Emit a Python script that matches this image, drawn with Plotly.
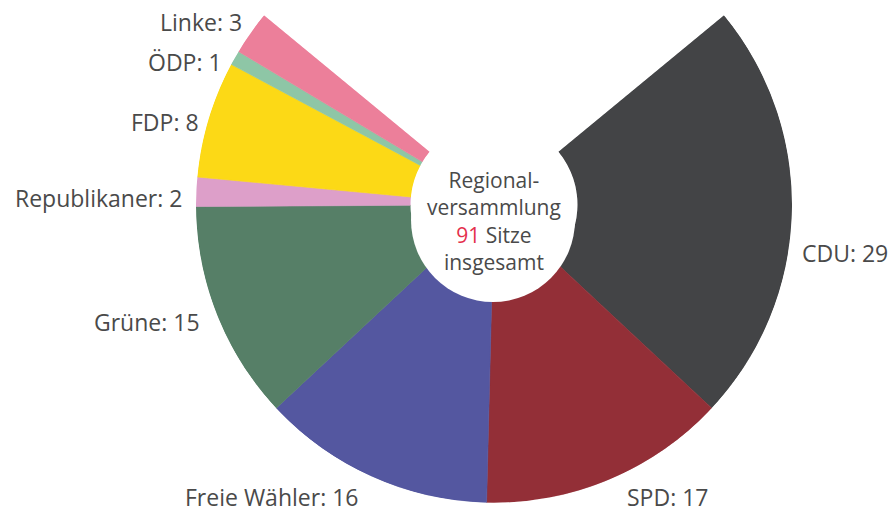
import plotly.graph_objects as go

parties = ["CDU", "SPD", "Freie Wähler", "Grüne", "Republikaner", "FDP", "ÖDP", "Linke"]
seats = [29, 17, 16, 15, 2, 8, 1, 3]
colors = ["#434446", "#932f37", "#5457a0", "#567f67", "#dd9fc9", "#fcd916", "#8ec6a6", "#ec7f9a"]
center_lines = ["Regional-", "versammlung", "{total} Sitze", "insgesamt"]

W, H = 891, 513
gap_half = 50.5                      # half of the empty wedge at the top (degrees)
total = sum(seats)
per_seat = (360 - 2 * gap_half) / total

fig = go.Figure()
cum = 0
for name, n, c in zip(parties, seats, colors):
    fig.add_trace(go.Barpolar(
        r=[1], theta=[gap_half + (cum + n / 2) * per_seat], width=[n * per_seat],
        marker=dict(color=c, line=dict(width=0.6, color=c)), name=name, showlegend=False,
        hoverinfo="skip",
    ))
    cum += n


def px(x):
    return x / W


def py(y):
    return 1 - y / H


# plot frame in screen pixels
x0, x1, y0, y1 = 196, 792, 15, 503

# white disc behind the centre caption (pixels)
dcx, dcy, dr = 493, 220, 82

fig.update_layout(
    width=W, height=H,
    margin=dict(l=0, r=0, t=0, b=0),
    paper_bgcolor="white",
    bargap=0,
    polar=dict(
        domain=dict(x=[px(x0), px(x1)], y=[py(y1), py(y0)]),
        sector=[90 + gap_half, 450 - gap_half],
        hole=0.28,
        bgcolor="white",
        angularaxis=dict(rotation=90, direction="clockwise", visible=False,
                         showgrid=False, showline=False, ticks=""),
        radialaxis=dict(range=[0, 1], visible=False, showgrid=False,
                        showline=False, ticks=""),
    ),
    font=dict(family="Open Sans", color="#4a4a4a"),
    shapes=[dict(type="circle", xref="paper", yref="paper", layer="above",
                 x0=px(dcx - dr), x1=px(dcx + dr), y0=py(dcy + dr), y1=py(dcy - dr),
                 fillcolor="white", line=dict(width=0))],
)

label_pos = {
    "CDU": (800, 253, "left"),
    "SPD": (625, 497, "left"),
    "Freie Wähler": (360, 497, "right"),
    "Grüne": (202, 322, "right"),
    "Republikaner": (184, 198, "right"),
    "FDP": (201, 122, "right"),
    "ÖDP": (224, 62, "right"),
    "Linke": (244, 22, "right"),
}
for name, n in zip(parties, seats):
    x, y, anc = label_pos[name]
    fig.add_annotation(x=px(x), y=py(y), xref="paper", yref="paper",
                       text=f"{name}: {n}", showarrow=False,
                       xanchor=anc, yanchor="middle",
                       font=dict(size=23, color="#4a4a4a", family="Open Sans"))

caption = "<br>".join(center_lines).replace(
    "{total}", f"<span style='color:#e4304c'>{total}</span>")
fig.add_annotation(x=px(494), y=py(221), xref="paper", yref="paper",
                   text=caption, showarrow=False, xanchor="center", yanchor="middle",
                   font=dict(size=21, color="#4a4a4a", family="Open Sans"))

fig.write_html("out.html", config={"displayModeBar": False},
               post_script="document.body.style.margin='0';")
